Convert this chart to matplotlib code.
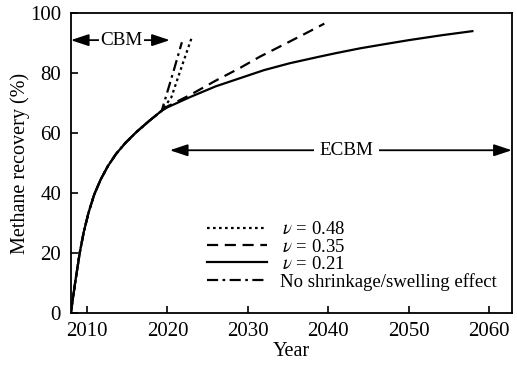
import numpy as np
import matplotlib
matplotlib.use("Agg")
import matplotlib.pyplot as plt

plt.rcParams['font.family'] = ['Liberation Serif', 'DejaVu Serif']
plt.rcParams['mathtext.fontset'] = 'stix'

# shared early production
base_year = [2008, 2008.5, 2009.1, 2009.6, 2010.2, 2010.9, 2011.7, 2012.6, 2013.6,
             2014.8, 2016.2, 2017.7, 2019.3]
base_rec = [0, 9.5, 20, 27, 33.5, 39.5, 44.5, 49, 53, 56.8, 60.5, 64, 67.5]

# nu = 0.21 (solid)
solid_year = [2020, 2022.8, 2026, 2029, 2032, 2035.2, 2038.9, 2041, 2044, 2047.3, 2050, 2054, 2057.9]
solid_rec = [68.6, 72, 75.6, 78.3, 81, 83.3, 85.5, 86.7, 88.3, 89.8, 91, 92.6, 94]

# nu = 0.35 (dashed)
dash_year = [2020, 2022.8, 2026, 2029, 2031.5, 2034.3, 2037, 2039.5]
dash_rec = [68.9, 72.7, 77.5, 81.7, 85.5, 89.3, 93, 96.5]

# nu = 0.48 (dotted)
dot_year = [2020.5, 2021.5, 2023]
dot_rec = [72, 80, 91.7]

# no shrinkage/swelling (dash-dot)
dd_year = [2019.8, 2020.8, 2021.8]
dd_rec = [72, 81, 90.3]

fig = plt.figure(figsize=(5.17, 3.65), dpi=100)
ax = fig.add_axes([0.137, 0.142, 0.853, 0.822])

lw = 1.6
ax.plot(base_year + dot_year, base_rec + dot_rec, color='black', lw=lw,
        linestyle=(0, (1.2, 1.5)), label=r'$\,\nu$ = 0.48')
ax.plot(base_year + dash_year, base_rec + dash_rec, color='black', lw=lw,
        linestyle=(0, (5, 3)), label=r'$\,\nu$ = 0.35')
ax.plot(base_year + solid_year, base_rec + solid_rec, color='black', lw=lw,
        linestyle='-', label=r'$\,\nu$ = 0.21')
ax.plot(base_year + dd_year, base_rec + dd_rec, color='black', lw=lw,
        linestyle=(0, (5, 2, 1.2, 2)), label='No shrinkage/swelling effect')

ax.set_xlim(2008, 2062.8)
ax.set_ylim(0, 100)
ax.set_xticks([2010, 2020, 2030, 2040, 2050, 2060])
ax.set_yticks([0, 20, 40, 60, 80, 100])
ax.tick_params(direction='in', length=5, width=1.2, labelsize=15)
ax.tick_params(axis='x', pad=6)
ax.tick_params(axis='y', pad=7)
for s in ax.spines.values():
    s.set_linewidth(1.3)
ax.set_xlabel('Year', fontsize=14.5, labelpad=1)
ax.set_ylabel('Methane recovery (%)', fontsize=14.5, labelpad=0)

arr = dict(arrowstyle='<|-|>,head_length=0.9,head_width=0.3', color='black',
           lw=1.3, shrinkA=0, shrinkB=0, mutation_scale=12)
ax.annotate('', xy=(2008, 91), xytext=(2020.3, 91), arrowprops=arr)
ax.text(2014.3, 91, 'CBM', fontsize=13.8, ha='center', va='center',
        bbox=dict(facecolor='white', edgecolor='none', pad=1))
ax.annotate('', xy=(2020.3, 54.3), xytext=(2062.8, 54.3), arrowprops=arr)
ax.text(2042.3, 54.3, 'ECBM', fontsize=13.8, ha='center', va='center',
        bbox=dict(facecolor='white', edgecolor='none', pad=4))

ax.legend(loc='upper left', bbox_to_anchor=(0.278, 0.35), frameon=False,
          fontsize=13.5, handlelength=3.2, handletextpad=0.7, labelspacing=0.0,
          borderpad=0.2)

fig.savefig('out.png', dpi=100)
